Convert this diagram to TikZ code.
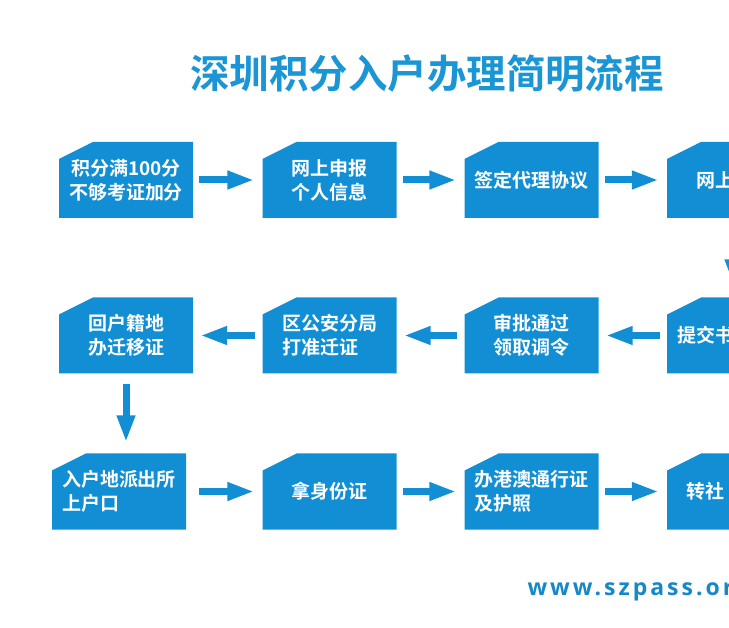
\documentclass[tikz,border=0pt]{standalone}
\usepackage{fontspec}
\setmainfont{Noto Sans CJK SC}[BoldFont={Noto Sans CJK SC Bold}]
\newfontfamily\webfont{Open Sans}[BoldFont={Open Sans Bold}, LetterSpace=13]
\usetikzlibrary{arrows.meta, positioning, calc}
\definecolor{flowblue}{RGB}{18,143,212}
\definecolor{titleblue}{RGB}{26,150,214}
\definecolor{webblue}{RGB}{22,136,200}

\begin{document}
\begin{tikzpicture}[x=1pt, y=-1pt,
        stepbox/.style={rectangle, fill=white, minimum width=134pt, minimum height=76pt, inner sep=0pt, text=white, align=center, font=\bfseries\fontsize{19}{24}\selectfont,
            path picture={\fill[flowblue] (path picture bounding box.south west) -- (path picture bounding box.south east) -- (path picture bounding box.north east) -- ([xshift=34pt]path picture bounding box.north west) -- ([yshift=-17pt]path picture bounding box.north west) -- cycle;}},
        arrow/.style={-{Triangle[length=27pt, width=17pt]}, line width=7pt, flowblue}
    ]
        \useasboundingbox (0,0) rectangle (729,628);
        \clip (0,0) rectangle (729,628);

        \node[font=\bfseries\fontsize{39.5}{44}\selectfont, text=titleblue] (title) at (427,74) {深圳积分入户办理简明流程};

        \node[stepbox] (jifen) at (126,180) {积分满100分\\不够考证加分};
        \node[stepbox] (shenbao) at (329.5,180) {网上申报\\个人信息};
        \node[stepbox] (xieyi) at (531.5,180) {签定代理协议};
        \node[stepbox] (wangshang) at (734,180) {网上\phantom{申请}};

        \node[stepbox] (huji) at (126,335.5) {回户籍地\\办迁移证};
        \node[stepbox, align=left] (gongan) at (329.5,335.5) {区公安分局\\打准迁证};
        \node[stepbox] (shenpi) at (531.5,335.5) {审批通过\\领取调令};
        \node[stepbox] (tijiao) at (734,335.5) {提交书\phantom{面材料}};

        \node[stepbox, align=left] (paichusuo) at (119,491.5) {入户地派出所\\上户口};
        \node[stepbox] (shenfen) at (329.5,491.5) {拿身份证};
        \node[stepbox, align=left] (gangao) at (531.5,491.5) {办港澳通行证\\及护照};
        \node[stepbox] (shebao) at (734,491.5) {转社\phantom{保转入}};

        \node[anchor=west, font=\webfont\bfseries\fontsize{23}{27}\selectfont, text=webblue] (site) at (524,592) {www.szpass.org};

        \draw[arrow, shorten <=6pt, shorten >=8pt] (jifen) -- (shenbao);
        \draw[arrow, shorten <=6pt, shorten >=8pt] (shenbao) -- (xieyi);
        \draw[arrow, shorten <=6pt, shorten >=8pt] (xieyi) -- (wangshang);
        \draw[arrow, shorten <=10pt, shorten >=11pt] (wangshang) -- (tijiao);
        \draw[arrow, shorten <=7pt, shorten >=7pt] (tijiao) -- (shenpi);
        \draw[arrow, shorten <=7pt, shorten >=7pt] (shenpi) -- (gongan);
        \draw[arrow, shorten <=7pt, shorten >=7pt] (gongan) -- (huji);
        \draw[arrow, shorten <=10pt, shorten >=11pt] (huji.south) -- (huji.south |- paichusuo.north);
        \draw[arrow, shorten <=13pt, shorten >=8pt] (paichusuo) -- (shenfen);
        \draw[arrow, shorten <=6pt, shorten >=8pt] (shenfen) -- (gangao);
        \draw[arrow, shorten <=6pt, shorten >=8pt] (gangao) -- (shebao);
    \end{tikzpicture}
\end{document}
